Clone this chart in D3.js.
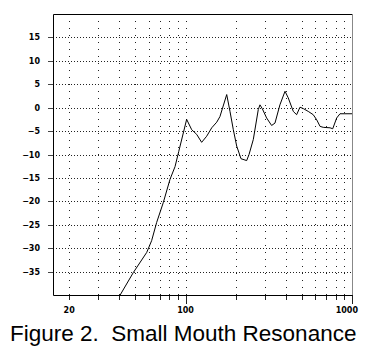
<!DOCTYPE html>
<html lang="en">
<head>
<meta charset="utf-8">
<title>Figure 2</title>
<script src="https://cdn.jsdelivr.net/npm/d3@7/dist/d3.min.js"></script>
<style>
  body { margin: 0; background: #fff; }
  .tick-label { font-family: "DejaVu Sans", sans-serif; font-weight: bold; font-size: 8px; fill: #000; }
  .title { font-family: "Liberation Sans", Arial, sans-serif; font-size: 22.5px; fill: #000; white-space: pre; }
</style>
</head>
<body>
<div id="chart"></div>
<script>
(function(d3) {
  'use strict';

  // response curve
  var freqs = [40.5, 48.6, 58.5, 62.6, 67.1, 73.5, 80.7, 86.5, 91, 101.6, 108.9, 116.7, 125, 134, 143.7,
    154, 161, 176.8, 185, 193.7, 203, 215.4, 233, 240.7, 255.4, 273.6, 280, 289, 307, 329, 344.6,
    369, 396, 414, 444, 465, 487, 510, 546, 585, 614, 643, 672, 738, 766, 809, 847, 907, 1000];
  var levels = [-40, -35.2, -30.9, -28.4, -24.5, -20.3, -15.3, -12.6, -9.4, -2.5, -4.7, -5.7, -7.4, -6.1, -4.3,
    -3.1, -1.9, 2.8, -0.8, -4.7, -8.2, -10.9, -11.3, -10, -6.8, -0.4, 0.6, -0.2, -2.2, -3.8, -3.3,
    0.6, 3.5, 2.1, -0.8, -1.5, 0.1, -0.2, -0.8, -1.5, -2.6, -4.0, -4.2, -4.3, -4.5, -2.2, -1.3, -1.3, -1.3];

  var yTicks = [-35, -30, -25, -20, -15, -10, -5, 0, 5, 10, 15];
  var xGrid = [20, 30, 40, 50, 60, 70, 80, 90, 100, 200, 300, 400, 500, 600, 700, 800, 900];
  var xMajor = [100, 1000];
  var xLabels = [20, 100, 1000];
  var title = 'Figure 2.  Small Mouth Resonance';

  var width = 372, height = 353;
  var left = 53, right = 352, top = 14, bottom = 295;

  var x = d3.scaleLog().domain([16, 1000]).range([left, right]);
  var y = d3.scaleLinear().domain([-40, 20]).range([bottom, top]);

  var svg = d3.select('#chart').append('svg')
    .attr('width', width)
    .attr('height', height);

  // grid
  svg.append('g').selectAll('line')
    .data(yTicks)
    .enter().append('line')
    .attr('x1', left).attr('x2', right)
    .attr('y1', function(d) { return Math.round(y(d)) + 0.5; })
    .attr('y2', function(d) { return Math.round(y(d)) + 0.5; })
    .attr('stroke', '#222')
    .attr('stroke-dasharray', '1,2');

  svg.append('g').selectAll('line')
    .data(xGrid)
    .enter().append('line')
    .attr('y1', top).attr('y2', bottom)
    .attr('x1', function(d) { return Math.round(x(d)) + 0.5; })
    .attr('x2', function(d) { return Math.round(x(d)) + 0.5; })
    .attr('stroke', '#222')
    .attr('stroke-dasharray', '1,6');

  // y ticks and labels
  svg.append('g').selectAll('line')
    .data(yTicks)
    .enter().append('line')
    .attr('x1', left - 5).attr('x2', left)
    .attr('y1', function(d) { return Math.round(y(d)) + 0.5; })
    .attr('y2', function(d) { return Math.round(y(d)) + 0.5; })
    .attr('stroke', '#444');

  svg.append('g').selectAll('text')
    .data(yTicks)
    .enter().append('text')
    .attr('class', 'tick-label')
    .attr('x', 40)
    .attr('y', function(d) { return y(d) + 3; })
    .attr('text-anchor', 'end')
    .text(function(d) { return d < 0 ? '\u2212' + Math.abs(d) : d; });

  // x ticks and labels
  svg.append('g').selectAll('line')
    .data(xGrid.concat([1000]))
    .enter().append('line')
    .attr('x1', function(d) { return Math.round(x(d)) + 0.5; })
    .attr('x2', function(d) { return Math.round(x(d)) + 0.5; })
    .attr('y1', bottom)
    .attr('y2', function(d) { return bottom + (xMajor.indexOf(d) >= 0 ? 9 : 5); })
    .attr('stroke', '#222');

  svg.append('g').selectAll('text')
    .data(xLabels)
    .enter().append('text')
    .attr('class', 'tick-label')
    .attr('x', function(d) { return d === 1000 ? x(d) + 6 : x(d); })
    .attr('y', bottom + 18)
    .attr('text-anchor', function(d) { return d === 1000 ? 'end' : 'middle'; })
    .text(function(d) { return d; });

  // frame
  svg.append('path')
    .attr('d', 'M' + (right + 0.5) + ',' + (top + 0.5) + 'H' + (left + 0.5) + 'V' + (bottom + 0.5) + 'H' + (right + 0.5))
    .attr('fill', 'none')
    .attr('stroke', '#000');
  svg.append('line')
    .attr('x1', right + 0.5).attr('x2', right + 0.5)
    .attr('y1', top).attr('y2', bottom)
    .attr('stroke', '#888');

  // curve
  var line = d3.line()
    .x(function(d) { return x(d[0]); })
    .y(function(d) { return y(d[1]); });

  svg.append('path')
    .datum(d3.zip(freqs, levels))
    .attr('d', line)
    .attr('fill', 'none')
    .attr('stroke', '#000')
    .attr('stroke-width', 1);

  svg.append('text')
    .attr('class', 'title')
    .attr('x', 10)
    .attr('y', 341)
    .text(title);

})(window.d3);
</script>
</body>
</html>
